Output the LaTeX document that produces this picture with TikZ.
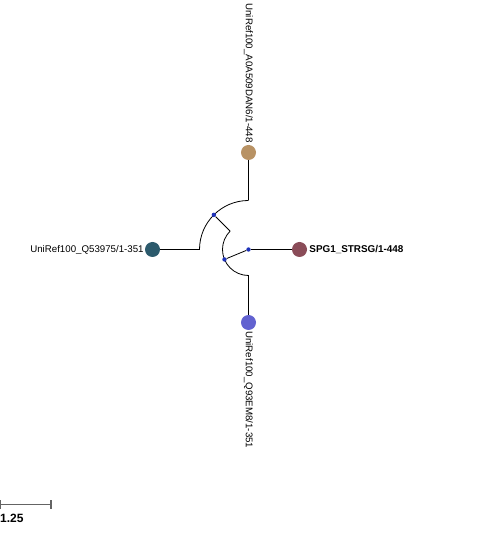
\documentclass[tikz,border=0pt]{standalone}
\usepackage{fontspec}
\setmainfont{Liberation Sans}
\usetikzlibrary{positioning,calc}
\definecolor{leaftan}{RGB}{184,146,100}
\definecolor{leafteal}{RGB}{44,90,108}
\definecolor{leafblue}{RGB}{98,98,208}
\definecolor{leafred}{RGB}{138,76,88}
\definecolor{innerdot}{RGB}{30,50,185}
\definecolor{bargrey}{RGB}{100,100,100}
\tikzset{
  leaf/.style={circle,inner sep=0pt,minimum size=15pt},
  innernode/.style={circle,fill=innerdot,inner sep=0pt,minimum size=4.4pt},
  seqname/.style={inner sep=0pt,font=\fontsize{9.7}{12}\selectfont},
  branch/.style={line width=0.8pt}
}
\begin{document}
\begin{tikzpicture}[x=1pt,y=1pt]
\useasboundingbox (0,0) rectangle (499,549);
% tree centre and arc ends
\coordinate (c) at (248.5,299.5);
\coordinate (a1) at ($(c)+(135:26)$);
\coordinate (a2) at ($(c)+(270:26)$);
\coordinate (b1) at ($(c)+(90:49)$);
\coordinate (b2) at ($(c)+(180:49)$);
\draw[branch] (a1) arc[start angle=135,end angle=270,radius=26];
\draw[branch] (b1) arc[start angle=90,end angle=180,radius=49];
% inner nodes
\node[innernode] (root) at (c) {};
\node[innernode] (na) at ($(c)+(202.5:26)$) {};
\node[innernode] (nb) at ($(c)+(135:49)$) {};
% leaves
\node[leaf,fill=leafred] (spg) at ($(c)+(0:51)$) {};
\node[leaf,fill=leaftan] (a0a) at ($(c)+(90:97)$) {};
\node[leaf,fill=leafteal] (q53) at ($(c)+(180:96)$) {};
\node[leaf,fill=leafblue] (q93) at ($(c)+(270:73)$) {};
\draw[branch] (root) -- (spg);
\draw[branch] (root) -- (na);
\draw[branch] (a1) -- (nb);
\draw[branch] (a2) -- (q93);
\draw[branch] (b1) -- (a0a);
\draw[branch] (b2) -- (q53);
% names
\node[seqname,font=\bfseries\fontsize{9.9}{12}\selectfont,right=2pt of spg] (spglbl) {SPG1\_STRSG/1-448};
\node[seqname,left=1pt of q53] (q53lbl) {UniRef100\_Q53975/1-351};
\node[seqname,above=2pt of a0a,anchor=east,rotate=-90] (a0albl) {UniRef100\_A0A509DAN6/1-448};
\node[seqname,below=1pt of q93,anchor=west,rotate=-90] (q93lbl) {UniRef100\_Q93EM8/1-351};
% scale bar
\coordinate (s0) at (0.7,44.7);
\coordinate (s1) at (51,44.7);
\draw[bargrey,line width=1.4pt] (s0) -- (s1);
\draw[bargrey,line width=1.4pt] ($(s0)+(0,-4.4)$) -- ($(s0)+(0,4.4)$);
\draw[bargrey,line width=1.4pt] ($(s1)+(0,-4.4)$) -- ($(s1)+(0,4.4)$);
\node[anchor=base west,inner sep=0pt,font=\bfseries\fontsize{12}{14}\selectfont] (scalelbl) at (0,27) {1.25};
\end{tikzpicture}
\end{document}
